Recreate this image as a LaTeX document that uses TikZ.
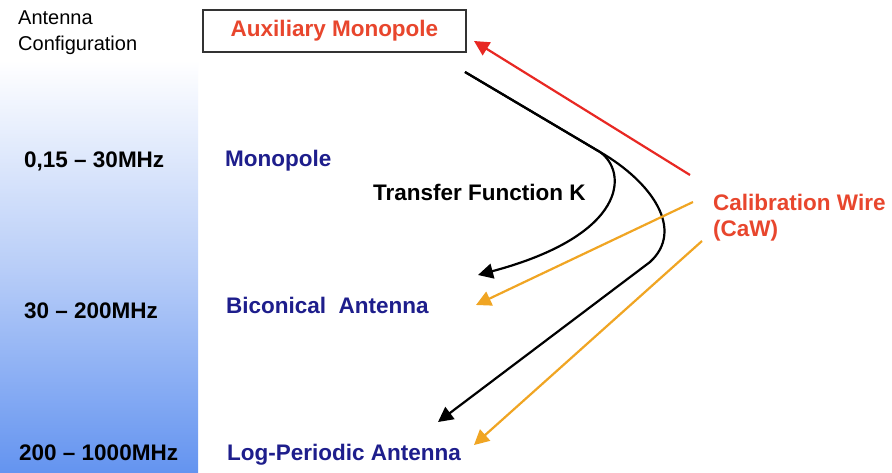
\documentclass[tikz,border=0pt]{standalone}
\usepackage{fontspec}
\setmainfont{Liberation Sans}
\usetikzlibrary{arrows.meta}
\definecolor{navy}{RGB}{30,30,140}
\definecolor{redtxt}{RGB}{232,70,45}
\definecolor{redarr}{RGB}{232,40,35}
\definecolor{orarr}{RGB}{240,165,35}
\definecolor{colbot}{RGB}{100,148,240}
\definecolor{colmid}{RGB}{185,206,248}
\tikzset{
  lbl/.style={anchor=base west, inner sep=0pt, font=\fontsize{22.5}{26}\selectfont\bfseries},
  freq/.style={lbl, text=black},
  ant/.style={lbl, text=navy},
  cal/.style={lbl, text=redtxt},
  conn/.style={line width=2.2pt, -{Triangle[length=15pt,width=15pt]}},
}
\begin{document}
\begin{tikzpicture}[x=1pt,y=-1pt]
\useasboundingbox (0,0) rectangle (892,472);
\fill[white] (0,0) rectangle (892,472);
% left column
\shade[top color=white, bottom color=white] (0,0) rectangle (198,60);
\shade[top color=white, bottom color=colbot, middle color=colmid] (0,60) rectangle (198,472);
% left texts
\node[anchor=base west, inner sep=0pt, align=left, font=\fontsize{20}{26}\selectfont] (cfg) at (18,50) {Antenna\\Configuration};
\node[freq] (f1) at (24,167) {0,15 – 30MHz};
\node[freq] (f2) at (24,318) {30 – 200MHz};
\node[freq] (f3) at (19,460) {200 – 1000MHz};
% box
\node[draw=black!80, line width=1.6pt, minimum width=263pt, minimum height=42pt, inner sep=0pt,
      font=\fontsize{22.5}{26}\selectfont\bfseries, text=redtxt] (aux) at (334.5,31) {Auxiliary Monopole};
% antenna texts
\node[ant] (mono) at (225,166) {Monopole};
\node[lbl] (tf) at (373,200) {Transfer Function K};
\node[ant] (bic) at (226,313) {Biconical\ \ Antenna};
\node[ant] (lpa) at (227,460) {Log-Periodic Antenna};
\node[cal] (caw) at (713,210) {Calibration Wire};
\node[cal] (caw2) at (713,236) {(CaW)};
% coordinates
\coordinate (ks) at (465,72);
\coordinate (kb) at (600,152);
\coordinate (t1) at (478,275);
\coordinate (t2) at (438,422);
\coordinate (rs) at (690,175);
\coordinate (rt) at (474,41);
\coordinate (o1s) at (693,202);
\coordinate (o1t) at (476,305);
\coordinate (o2s) at (702,241);
\coordinate (o2t) at (474,445);
% arrows
\draw[conn, redarr] (rs) -- (rt);
\draw[conn, black] (ks) -- (kb) .. controls (628,172) and (628,235) .. (t1);
\draw[conn, black] (ks) -- (kb) .. controls (652,182) and (685,230) .. (650,262) -- (t2);
\draw[conn, orarr] (o1s) -- (o1t);
\draw[conn, orarr] (o2s) -- (o2t);
\end{tikzpicture}
\end{document}
